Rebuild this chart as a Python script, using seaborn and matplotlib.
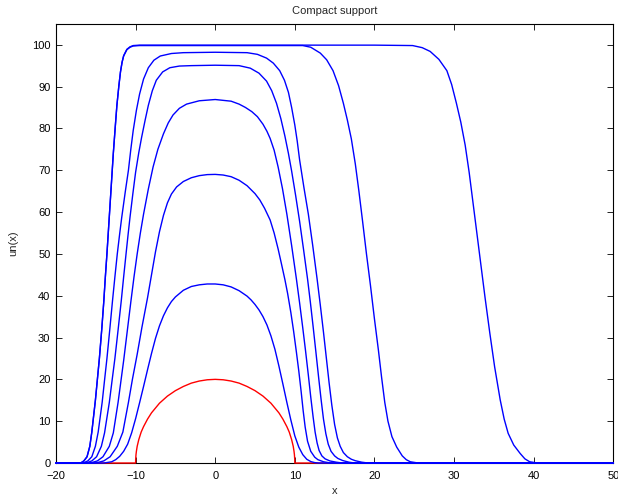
import matplotlib
matplotlib.use("Agg")
import matplotlib.pyplot as plt
import seaborn as sns

# ============================================
# DATA  (x, un(x)) pairs
# ============================================

# initial profile (red)
init_pts = [(-20, 0), (-12, 0), (-10, 0), (-9.99, 0.9), (-9.95, 2.0), (-9.9, 2.8), (-9.8, 4.0),
            (-9.6, 5.6), (-9.3, 7.4), (-9, 8.7), (-8.5, 10.5), (-8, 12.0), (-7, 14.3), (-6, 16.0),
            (-5, 17.3), (-4, 18.3), (-3, 19.1), (-2, 19.6), (-1, 19.9), (0, 20.0), (1, 19.9),
            (2, 19.6), (3, 19.1), (4, 18.3), (5, 17.3), (6, 16.0), (7, 14.3), (8, 12.0),
            (8.5, 10.5), (9, 8.7), (9.3, 7.4), (9.6, 5.6), (9.8, 4.0), (9.9, 2.8), (9.95, 2.0),
            (9.99, 0.9), (10, 0), (12, 0), (50, 0)]

# later time steps (blue)
t1_pts = [(-20, 0), (-14, 0), (-13, 0.3), (-12.5, 0.8), (-12, 1.6), (-11.5, 2.8), (-11, 4.5),
          (-10.5, 7.2), (-10, 10.6), (-9.5, 14.4), (-9, 18.3), (-8.5, 22.3), (-8, 26.2),
          (-7.5, 29.8), (-7, 32.8), (-6.5, 35.2), (-6, 37.1), (-5.5, 38.6), (-5, 39.7), (-4, 41.3),
          (-3, 42.2), (-2, 42.6), (-1, 42.8), (0, 42.8), (1, 42.6), (2, 42.1), (3, 41.2),
          (4, 39.9), (4.5, 39.0), (5, 37.9), (5.5, 36.6), (6, 35.0), (6.5, 33.0), (7, 30.4),
          (7.5, 27.2), (8, 23.2), (8.5, 18.9), (9, 14.5), (9.5, 10.3), (10, 6.5), (10.5, 3.8),
          (11, 2.0), (11.5, 0.9), (12, 0.35), (12.5, 0.1), (13, 0), (50, 0)]

t2_pts = [(-20, 0), (-15, 0), (-14, 0.5), (-13.2, 1.5), (-12.3, 4), (-11.6, 7.4), (-10.9, 14.5),
          (-10.4, 20), (-9.8, 26), (-9.2, 32.5), (-8.5, 39.5), (-8.0, 45), (-7.5, 50.5),
          (-7.0, 55.3), (-6.5, 59.2), (-6.0, 62.2), (-5.5, 64.3), (-4.85, 66.0), (-4, 67.3),
          (-3, 68.2), (-2, 68.7), (-1, 68.95), (0, 69.0), (1, 68.85), (2, 68.45), (3, 67.6),
          (4, 66.3), (5, 64.4), (5.6, 62.9), (6.2, 60.9), (6.9, 58.1), (7.4, 55.0),
          (7.9, 51.2), (8.3, 47.8), (8.76, 43.8), (9.1, 40.5), (9.5, 36), (9.85, 31.5),
          (10.2, 26.5), (10.5, 22), (10.8, 17), (11.05, 12.5), (11.3, 8.6), (11.6, 5.2),
          (12, 2.8), (12.5, 1.4), (12.9, 0.8), (13.6, 0.3), (14.5, 0), (50, 0)]

t3_pts = [(-20, 0), (-15.7, 0), (-14.8, 0.5), (-14.1, 1.5), (-13.3, 4), (-12.8, 7.2), (-12.2, 14.5),
          (-11.85, 19.5), (-11.5, 24.5), (-11.05, 31.5), (-10.6, 38.5), (-10.2, 44.5),
          (-9.8, 50), (-9.4, 55), (-9.0, 59.5), (-8.4, 65.5), (-7.8, 70.8), (-7.2, 75.0),
          (-6.5, 78.7), (-5.9, 81.3), (-5.3, 83.2), (-4.5, 84.8), (-3.6, 85.8), (-2, 86.6),
          (0, 86.9), (2, 86.5), (3, 85.8), (3.8, 85.0), (4.6, 84.0), (5.3, 82.8), (6.0, 81.0),
          (6.5, 79.3), (6.9, 77.6), (7.4, 74.8), (7.9, 70.8), (8.45, 65.6), (9.0, 59.5),
          (9.6, 52.0), (10.2, 44.0), (10.6, 38.3), (11.0, 32.3), (11.35, 26.8), (11.7, 21.0),
          (12.0, 15.8), (12.3, 11.0), (12.55, 7.4), (12.8, 4.8), (13.05, 3.0), (13.4, 1.7),
          (13.8, 1.0), (14.4, 0.5), (15.2, 0.2), (16, 0), (50, 0)]

t4_pts = [(-20, 0), (-16.2, 0), (-15.5, 0.5), (-14.9, 1.5), (-14.3, 4), (-13.9, 7.2), (-13.3, 14.5),
          (-12.95, 19.8), (-12.6, 25), (-12.2, 31.8), (-11.8, 38.8), (-11.5, 44.5), (-11.2, 50),
          (-10.95, 54.5), (-10.7, 58.8), (-10.35, 64.3), (-10.0, 69.5), (-9.6, 74.2),
          (-9.25, 77.8), (-8.8, 82.0), (-8.4, 85.5), (-7.9, 89.0), (-7.4, 91.5), (-6.6, 93.5),
          (-5.7, 94.5), (-4.5, 94.9), (-3, 95.0), (0, 95.1), (3, 95.0), (4.4, 94.4), (5.5, 93.2),
          (6.45, 91.3), (7.1, 89.0), (7.7, 86.0), (8.25, 82.3), (8.75, 78.2), (9.2, 74.0),
          (9.6, 69.8), (10.1, 64.0), (10.6, 57.8), (11.1, 51.0), (11.6, 44.0), (11.95, 38.5),
          (12.3, 32.6), (12.65, 26.5), (13.0, 20.3), (13.3, 15.2), (13.6, 10.5), (13.9, 7.0),
          (14.2, 4.5), (14.55, 2.8), (15.0, 1.7), (15.4, 1.1), (16.0, 0.6), (16.8, 0.2),
          (17.5, 0), (50, 0)]

t5_pts = [(-20, 0), (-16.6, 0), (-16.0, 0.5), (-15.5, 1.5), (-15.05, 4), (-14.7, 7.4), (-14.2, 14.5),
          (-13.9, 19.8), (-13.6, 25), (-13.25, 31.8), (-12.9, 38.8), (-12.6, 44.5), (-12.3, 50),
          (-12.0, 54.8), (-11.75, 58.6), (-11.3, 64.8), (-10.9, 70), (-10.6, 75.0),
          (-10.3, 79.5), (-9.9, 84.3), (-9.5, 88.2), (-9.0, 91.8), (-8.4, 94.5), (-7.7, 96.3),
          (-6.9, 97.3), (-5.5, 97.9), (-4, 98.1), (0, 98.2), (4, 98.1), (5.3, 97.7), (6.45, 96.8),
          (7.3, 95.6), (8.1, 93.8), (8.7, 91.5), (9.2, 88.6), (9.6, 85.0), (10.0, 80.8),
          (10.3, 77.0), (10.6, 72.5), (11.15, 65.8), (11.7, 59.5), (12.25, 52.0), (12.8, 44.0),
          (13.2, 37.8), (13.6, 31.3), (13.95, 25.3), (14.3, 19.3), (14.65, 13.8), (15.0, 9.2),
          (15.35, 6.0), (15.7, 4.0), (16.1, 2.5), (16.6, 1.5), (17.1, 0.9), (17.6, 0.55),
          (18.4, 0.2), (19.2, 0), (50, 0)]

t6_pts = [(-20, 0), (-16.9, 0), (-16.5, 0.5), (-16.1, 1.5), (-15.75, 4), (-15.5, 7.4), (-15.05, 15),
          (-14.8, 20), (-14.55, 25), (-14.25, 32), (-14.0, 38.5), (-13.8, 44.5), (-13.6, 50),
          (-13.4, 56), (-13.2, 62), (-13.0, 68), (-12.8, 74), (-12.55, 80.5), (-12.35, 85.5),
          (-12.1, 90.2), (-11.9, 93.5), (-11.7, 95.8), (-11.5, 97.3), (-11.1, 98.8),
          (-10.7, 99.4), (-10.3, 99.7), (-9.5, 99.8), (11, 99.8), (12, 99.4), (13.2, 98.0),
          (14.0, 96.4), (14.8, 93.8), (15.5, 90.2), (16.1, 86.0), (16.6, 82.0), (17.1, 77.5),
          (17.6, 71.5), (18.05, 65.0), (18.5, 58.0), (19.0, 50.0), (19.5, 42.5), (20.0, 34.5),
          (20.5, 27.0), (20.9, 20.5), (21.3, 14.5), (21.7, 10.0), (22.2, 6.3), (22.8, 3.8),
          (23.5, 1.7), (24.0, 0.8), (24.5, 0.3), (25.5, 0), (50, 0)]

t7_pts = [(-20, 0), (-16.9, 0), (-16.5, 0.5), (-16.1, 1.5), (-15.75, 4), (-15.5, 7.4), (-15.05, 15),
          (-14.8, 20), (-14.55, 25), (-14.25, 32), (-14.0, 38.5), (-13.8, 44.5), (-13.6, 50),
          (-13.4, 56), (-13.2, 62), (-13.0, 68), (-12.8, 74), (-12.55, 80.5), (-12.35, 85.5),
          (-12.1, 90.2), (-11.9, 93.5), (-11.7, 95.8), (-11.5, 97.4), (-11.1, 98.9),
          (-10.7, 99.5), (-10.3, 99.8), (-9.5, 99.9), (20, 99.9), (24.8, 99.8), (26, 99.3),
          (27, 98.4), (28.1, 96.5), (29.1, 93.8), (29.7, 90.5), (30.3, 86.0), (30.85, 81.5),
          (31.4, 76.0), (31.9, 69.5), (32.4, 62.0), (32.9, 54.5), (33.4, 47.0), (33.9, 39.5),
          (34.5, 31.0), (35.1, 23.0), (35.8, 15.1), (36.3, 10.5), (36.8, 7.1), (37.5, 4.3),
          (38.3, 2.3), (38.9, 1.0), (39.5, 0.3), (40.5, 0), (50, 0)]

blue_curves = [t1_pts, t2_pts, t3_pts, t4_pts, t5_pts, t6_pts, t7_pts]

x_ticks = [-20, -10, 0, 10, 20, 30, 40, 50]
x_ticklabels = ['\u221220', '\u221210', '0', '10', '20', '30', '40', '50']
y_ticks = [0, 10, 20, 30, 40, 50, 60, 70, 80, 90, 100]

# ============================================
# PLOT
# ============================================

sns.set_style("ticks")
plt.rcParams['font.family'] = ['Liberation Sans', 'DejaVu Sans']
plt.rcParams['font.size'] = 8

fig = plt.figure(figsize=(6.18, 4.96), dpi=100)
ax = fig.add_axes([0.0906, 0.0665, 0.9017, 0.8855])


def draw(pts, color):
    xs = [p[0] for p in pts]
    us = [p[1] for p in pts]
    sns.lineplot(x=xs, y=us, color=color, linewidth=1.0, estimator=None,
                 sort=False, ax=ax, zorder=3, clip_on=False)


draw(init_pts, '#ff0000')
for pts in blue_curves:
    draw(pts, '#0000ff')

ax.set_xlim(-20, 50)
ax.set_ylim(0, 105)
ax.set_xticks(x_ticks)
ax.set_xticklabels(x_ticklabels)
ax.set_yticks(y_ticks)
ax.tick_params(direction='in', length=4, width=0.6, top=True, right=True,
               labelsize=8, colors='black')
ax.tick_params(axis='x', pad=6)
ax.tick_params(axis='y', pad=4)
for s in ax.spines.values():
    s.set_visible(True)
    s.set_linewidth(0.8)
    s.set_color('black')

ax.set_title('Compact support', fontsize=8, pad=7)
ax.set_xlabel('x', fontsize=8, labelpad=3)
ax.set_ylabel('un(x)', fontsize=8, labelpad=10)

fig.savefig('out.png', dpi=100)
